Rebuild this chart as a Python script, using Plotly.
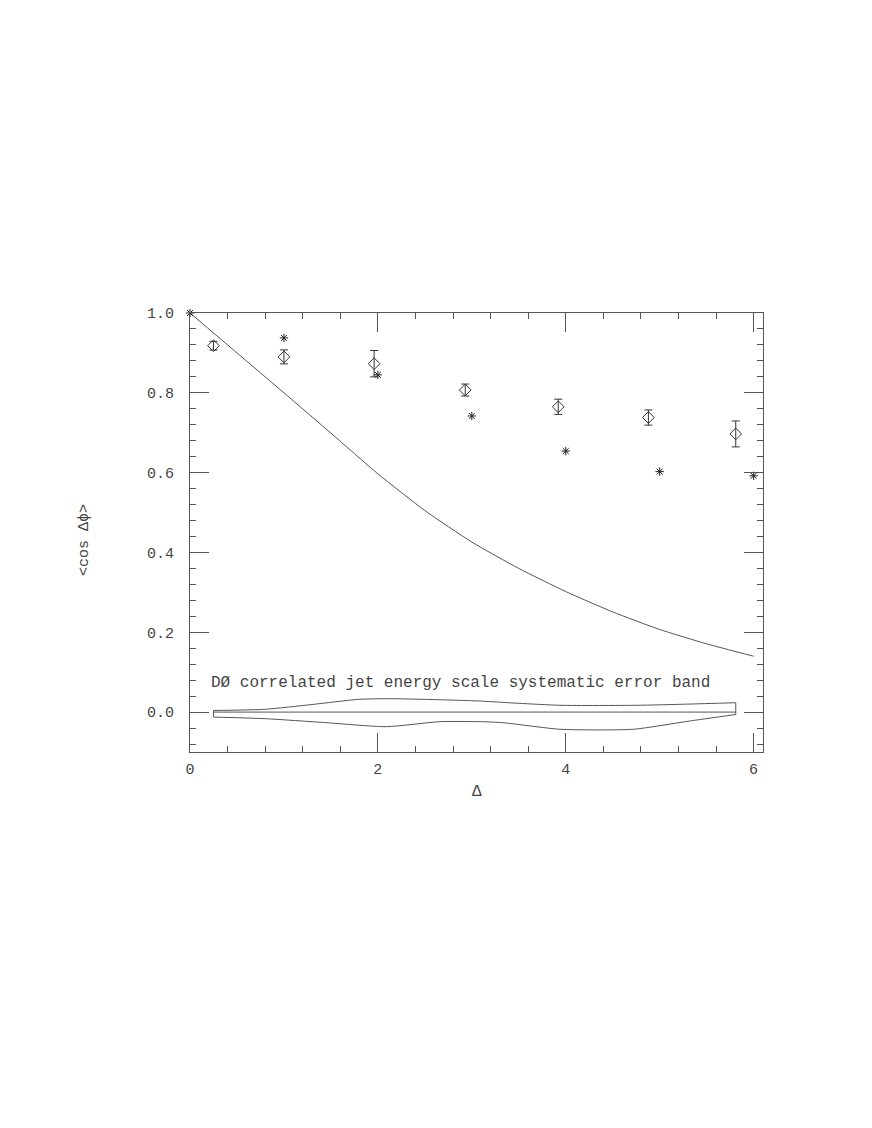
import plotly.graph_objects as go

# theory curve
curve_x = [0.0, 0.5, 1.0, 1.5, 2.0, 2.5, 3.0, 3.5, 4.0, 4.5, 5.0, 5.5, 6.0]
curve_y = [1.0, 0.900, 0.800, 0.699, 0.597, 0.505, 0.426, 0.360, 0.302, 0.251, 0.207, 0.171, 0.140]

# data points with errors (diamonds)
dia_x = [0.25, 1.0, 1.96, 2.93, 3.92, 4.88, 5.81]
dia_y = [0.918, 0.890, 0.873, 0.807, 0.765, 0.738, 0.697]
dia_err = [0.011, 0.0175, 0.033, 0.015, 0.019, 0.019, 0.0325]

# prediction (asterisks)
star_x = [0, 1, 2, 3, 4, 5, 6]
star_y = [1.0, 0.9375, 0.845, 0.742, 0.654, 0.6025, 0.592]

# systematic error band
up_x = [0.25, 0.8, 1.3, 1.8, 2.15, 2.8, 3.1, 3.5, 3.95, 4.75, 5.3, 5.81]
up_y = [0.004, 0.007, 0.019, 0.032, 0.0335, 0.030, 0.0275, 0.022, 0.017, 0.017, 0.020, 0.0235]
lo_x = [0.25, 0.8, 1.45, 2.09, 2.66, 3.09, 3.33, 3.94, 4.72, 5.3, 5.81]
lo_y = [-0.0125, -0.0165, -0.0265, -0.0365, -0.024, -0.024, -0.0265, -0.043, -0.043, -0.023, -0.006]

FONT = "Liberation Mono"
LC = "#555555"
TC = "#444444"

fig = go.Figure()

band_line = dict(color=LC, width=1, shape="spline", smoothing=0.6)
fig.add_trace(go.Scatter(x=up_x, y=up_y, mode="lines", line=band_line))
fig.add_trace(go.Scatter(x=lo_x, y=lo_y, mode="lines", line=band_line))
# band ends and centre line
fig.add_trace(go.Scatter(x=[up_x[0], lo_x[0]], y=[up_y[0], lo_y[0]], mode="lines",
                         line=dict(color=LC, width=1)))
fig.add_trace(go.Scatter(x=[up_x[-1], lo_x[-1]], y=[up_y[-1], lo_y[-1]], mode="lines",
                         line=dict(color=LC, width=1)))
fig.add_trace(go.Scatter(x=[up_x[0], up_x[-1]], y=[0, 0], mode="lines",
                         line=dict(color=LC, width=1)))

fig.add_trace(go.Scatter(x=curve_x, y=curve_y, mode="lines",
                         line=dict(color=LC, width=1, shape="spline", smoothing=0.5),
                         cliponaxis=False))

fig.add_trace(go.Scatter(
    x=dia_x, y=dia_y, mode="markers",
    marker=dict(symbol="diamond-open", size=9, color="#333333", line=dict(width=1)),
    error_y=dict(type="data", array=dia_err, color="#333333", thickness=1, width=4)))

fig.add_trace(go.Scatter(
    x=star_x, y=star_y, mode="markers", cliponaxis=False,
    marker=dict(symbol="asterisk-open", size=7, color="#222222",
                line=dict(width=1, color="#222222"))))

# dummy trace to activate top/right mirror axes
fig.add_trace(go.Scatter(x=[0], y=[0], xaxis="x2", yaxis="y2", mode="markers",
                         marker=dict(opacity=0), hoverinfo="skip"))

axis_common = dict(showgrid=False, zeroline=False, showline=True, linecolor=LC,
                   linewidth=1, ticks="inside", ticklen=19, tickcolor=LC, tickwidth=1,
                   tickfont=dict(family=FONT, size=15, color=TC))
xminor = dict(dtick=0.4, tick0=0, ticks="inside", ticklen=6, tickcolor=LC)
yminor = dict(dtick=0.04, tick0=0, ticks="inside", ticklen=6, tickcolor=LC)

fig.update_layout(
    width=872, height=1128,
    margin=dict(l=182, r=117, t=305, b=384),
    paper_bgcolor="white", plot_bgcolor="white",
    showlegend=False,
    xaxis=dict(range=[0, 6.1], dtick=2, tick0=0, minor=xminor,
               ticklabelstandoff=3, **axis_common),
    yaxis=dict(range=[-0.1, 1.0], dtick=0.2, tick0=0, tickformat=".1f", minor=yminor,
               ticklabelstandoff=12, **axis_common),
    xaxis2=dict(range=[0, 6.1], dtick=2, tick0=0, overlaying="x", side="top",
                showticklabels=False, minor=xminor, **axis_common),
    yaxis2=dict(range=[-0.1, 1.0], dtick=0.2, tick0=0, overlaying="y", side="right",
                showticklabels=False, minor=yminor, **axis_common),
    annotations=[
        dict(x=0.2, y=0.073, xref="x", yref="y", xanchor="left", yanchor="middle",
             text="DØ correlated jet energy scale systematic error band",
             showarrow=False, font=dict(family=FONT, size=16, color=TC)),
        dict(x=0.5, y=-0.091, xref="paper", yref="paper", xanchor="center",
             yanchor="middle", text="Δ", showarrow=False,
             font=dict(family=FONT, size=16, color=TC)),
        dict(x=-0.183, y=0.483, xref="paper", yref="paper", xanchor="center",
             yanchor="middle", text="&lt;cos Δϕ&gt;", textangle=-90, showarrow=False,
             font=dict(family=FONT, size=15, color=TC)),
    ],
)

fig.write_html("out.html")
